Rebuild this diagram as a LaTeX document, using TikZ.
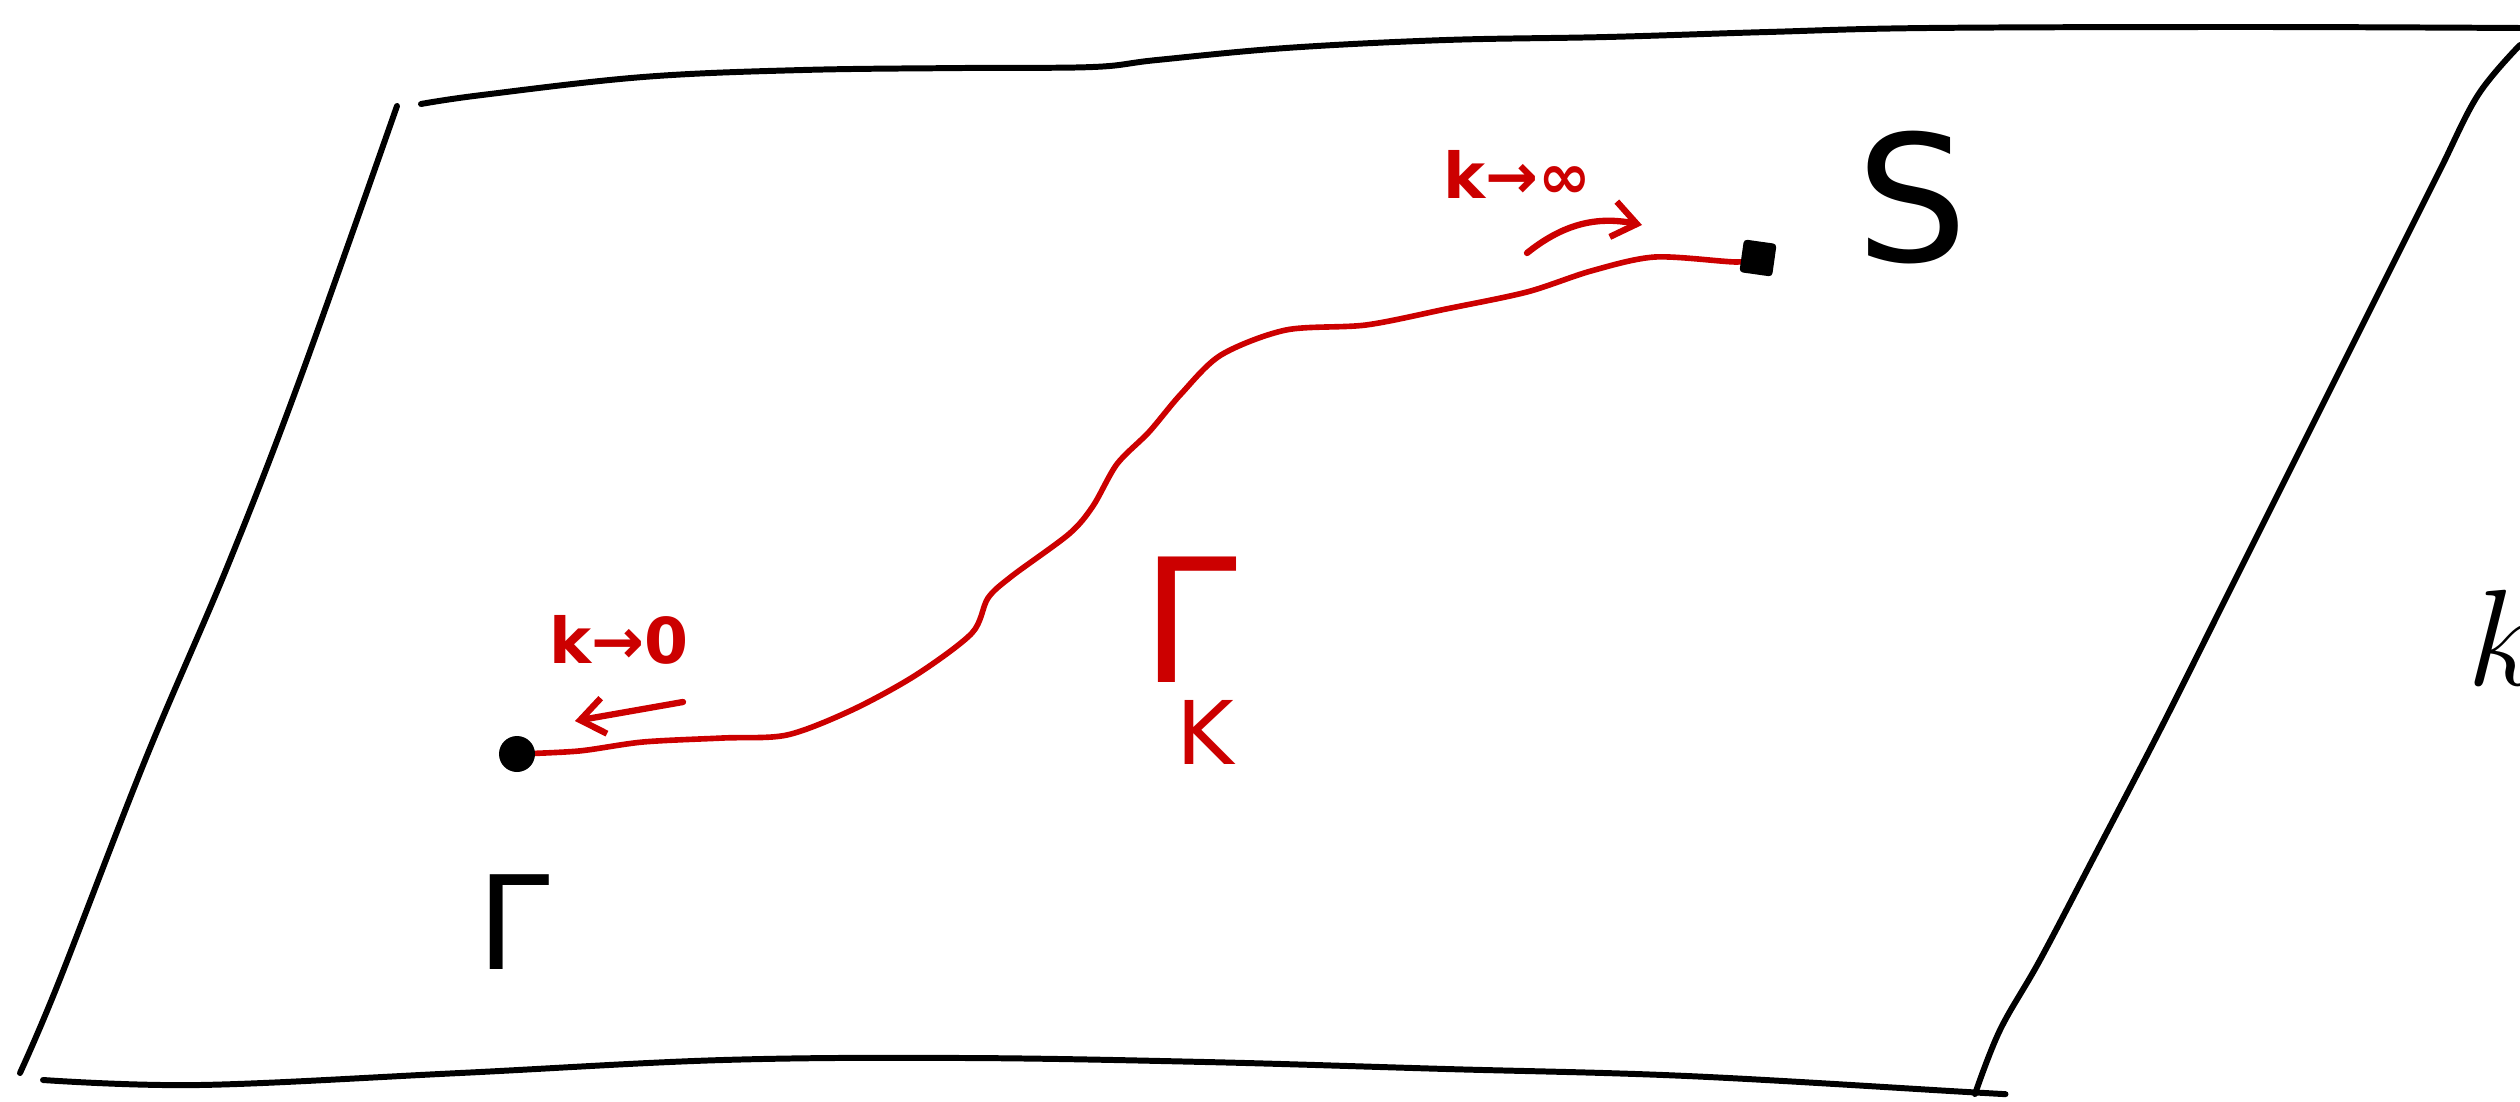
\documentclass[tikz,border=0pt]{standalone}
\usepackage{fontspec}
\newfontfamily\handfont{DejaVu Sans}
\usetikzlibrary{arrows.meta,positioning}
\definecolor{penred}{RGB}{204,0,0}

\begin{document}
\begin{tikzpicture}[x=0.1mm,y=-0.1mm,
  edge/.style={line width=1.7pt,line cap=round,line join=round},
  flow/.style={penred,line width=1.6pt,line cap=round,line join=round},
  dot/.style={circle,fill=black,inner sep=0pt,minimum size=3.6mm},
  hint/.style={penred,line width=1.8pt,line cap=round,-{Straight Barb[length=2.4mm,width=3.6mm,line width=1.8pt]}},
  redlab/.style={text=penred,inner sep=0pt,font=\handfont\bfseries\fontsize{18}{18}\selectfont}]
\useasboundingbox (0,0) rectangle (2520,1102);
% ---- the sheet ----
\draw[edge] plot[smooth,tension=0.6] coordinates {(421,104) (482,95) (643,77) (803,70) (964,68) (1093,67)
  (1157,60) (1286,48) (1446,40) (1607,37) (1768,32) (1928,28) (2250,27) (2520,28)};
\draw[edge] plot[smooth,tension=0.6] coordinates {(397,106) (300,379) (228,565) (146,758) (58,984) (20,1073)};
\draw[edge] plot[smooth,tension=0.6] coordinates {(43,1080) (200,1085) (460,1073) (723,1060) (964,1058)
  (1205,1062) (1446,1069) (1687,1076) (1967,1092) (2003,1094)};
\draw[edge] plot[smooth,tension=0.6] coordinates {(2520,45) (2478,95) (2440,170) (2400,250) (2340,370)
  (2280,490) (2220,610) (2160,730) (2095,855) (2040,960) (2000,1030) (1975,1094)};
% ---- path from Gamma to S ----
\coordinate (p0) at (517,754);
\coordinate (pS) at (1758,258);
\draw[flow] plot[smooth,tension=0.5] coordinates {(p0) (579,751) (643,742) (723,738) (787,735) (852,710)
  (916,675) (972,633) (988,598) (1012,576) (1069,534) (1093,506) (1117,464) (1149,432) (1181,394)
  (1221,355) (1286,330) (1366,325) (1446,309) (1527,292) (1591,271) (1655,257) (1736,262) (pS)};
\node[dot] (dot0) at (p0) {};
\node[dot,rectangle,rounded corners=1pt,minimum size=3.3mm,rotate=-8] (dotS) at (pS) {};
% ---- labels ----
\node[font=\handfont\fontsize{50}{50}\selectfont,inner sep=0pt] (labS) at (1912,198) {S};
\node[redlab] (labinf) at (1517,174) {k→∞};
\coordinate (ainf0) at (1527,253);
\coordinate (ainf1) at (1642,225);
\draw[hint] (ainf0) to[bend left=25] (ainf1);
\node[redlab] (labzero) at (619,640) {k→0};
\coordinate (azero0) at (683,702);
\coordinate (azero1) at (575,721);
\draw[hint] (azero0) -- (azero1);
\node[text=penred,inner sep=0pt,font=\handfont\fontsize{49}{49}\selectfont] (gammaK) at (1189,620) {Γ};
\node[text=penred,inner sep=0pt,font=\handfont\fontsize{25}{25}\selectfont,below=1.6mm of gammaK,xshift=1.6mm] (labK) {K};
\node[inner sep=0pt,font=\handfont\fontsize{37}{37}\selectfont] (gamma0) at (514,922) {Γ};
\node[anchor=base west,inner sep=0pt,font=\Huge,scale=1.57] (kvar) at (2466,685) {$k$};
\end{tikzpicture}
\end{document}
